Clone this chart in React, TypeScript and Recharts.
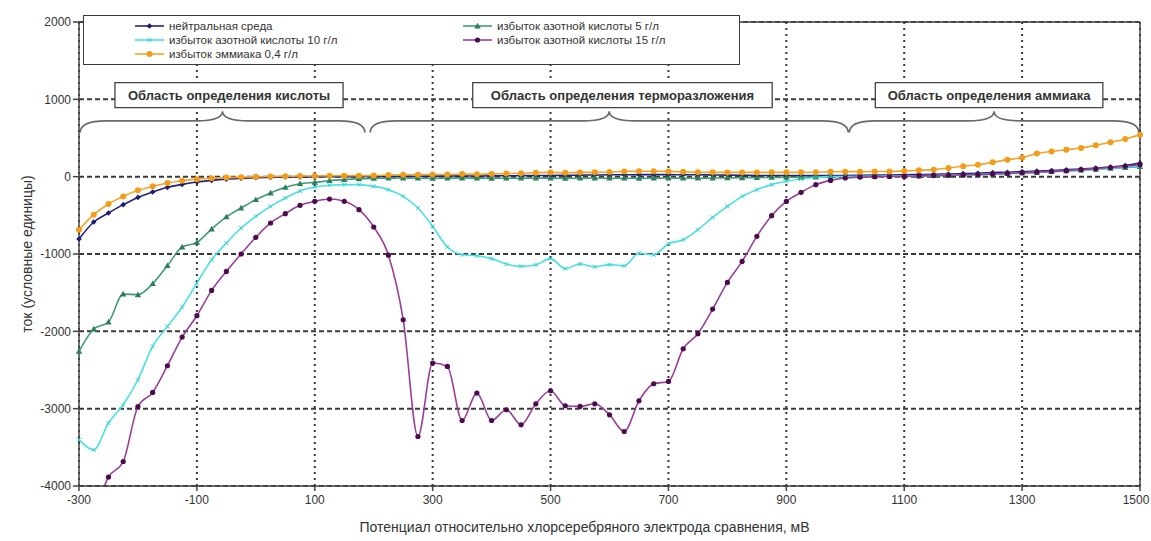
import React from 'react';
import { LineChart, Line, XAxis, YAxis, CartesianGrid, ReferenceLine, ReferenceArea, Label } from 'recharts';

const FONT = '"Liberation Sans", Arial, sans-serif';

// Potential, mV
const potentials = [
  -300, -275, -250, -225, -200, -175, -150, -125, -100, -75, -50, -25,
  0, 25, 50, 75, 100, 125, 150, 175, 200, 225, 250, 275,
  300, 325, 350, 375, 400, 425, 450, 475, 500, 525, 550, 575,
  600, 625, 650, 675, 700, 725, 750, 775, 800, 825, 850, 875,
  900, 925, 950, 975, 1000, 1025, 1050, 1075, 1100, 1125, 1150, 1175,
  1200, 1225, 1250, 1275, 1300, 1325, 1350, 1375, 1400, 1425, 1450, 1475, 1500,
];

const neutral = [
  -806, -586, -470, -362, -268, -198, -138, -100, -69, -48, -32, -22,
  -14, -9, -5, -3, -2, -1, 0, 2, 3, 4, 5, 6,
  7, 8, 8, 9, 10, 12, 13, 15, 16, 18, 20, 22,
  24, 25, 26, 26, 26, 25, 24, 22, 20, 18, 16, 15,
  14, 14, 14, 15, 16, 18, 20, 22, 25, 28, 31, 35,
  40, 45, 52, 58, 65, 72, 80, 90, 100, 112, 125, 145, 175,
];

const nitric5 = [
  -2260, -1970, -1880, -1517, -1527, -1384, -1151, -910, -850, -677, -521, -405,
  -298, -211, -138, -91, -74, -52, -38, -28, -22, -20, -18, -20,
  -22, -20, -18, -20, -22, -20, -20, -18, -20, -22, -20, -18,
  -20, -20, -22, -20, -18, -20, -20, -18, -16, -14, -12, -10,
  -8, -6, -4, -2, 0, 2, 4, 6, 8, 11, 14, 18,
  22, 27, 33, 40, 48, 56, 65, 74, 84, 95, 106, 118, 130,
];

const nitric10 = [
  -3402, -3532, -3186, -2950, -2626, -2195, -1937, -1686, -1375, -1074, -858, -664,
  -513, -384, -276, -185, -133, -110, -103, -103, -125, -168, -255, -405,
  -643, -910, -1009, -1022, -1060, -1130, -1160, -1140, -1060, -1190, -1130, -1165,
  -1138, -1151, -990, -1009, -867, -815, -686, -527, -384, -255, -168, -103,
  -60, -30, -10, 0, 2, 4, 6, 8, 10, 12, 15, 18,
  22, 27, 33, 40, 48, 56, 65, 75, 85, 96, 108, 122, 138,
];

const nitric15 = [
  null, -4380, -3885, -3683, -2972, -2790, -2445, -2074, -1798, -1471, -1225, -1000,
  -785, -599, -479, -371, -319, -289, -319, -427, -651, -1015, -1850, -3360,
  -2410, -2454, -3153, -2799, -3153, -3014, -3208, -2937, -2768, -2962, -2971, -2937,
  -3079, -3295, -2898, -2678, -2648, -2225, -2030, -1712, -1367, -1096, -772, -505,
  -320, -203, -103, -48, -17, -5, 0, 3, 6, 10, 14, 18,
  23, 28, 35, 42, 50, 58, 68, 78, 90, 102, 118, 135, 155,
];

const ammonia = [
  -686, -492, -353, -255, -177, -125, -82, -52, -32, -20, -12, -6,
  -2, 2, 5, 8, 10, 12, 13, 13, 14, 20, 24, 26,
  27, 28, 35, 30, 36, 40, 45, 52, 55, 50, 55, 56,
  60, 68, 70, 70, 68, 62, 58, 56, 55, 55, 55, 56,
  56, 56, 57, 62, 65, 65, 66, 67, 74, 82, 91, 113,
  134, 155, 185, 220, 246, 298, 327, 349, 371, 405, 444, 488, 543,
];

const xTicks = [-300, -100, 100, 300, 500, 700, 900, 1100, 1300, 1500];
const yTicks = [-4000, -3000, -2000, -1000, 0, 1000, 2000];

const regionLabels = [
  { text: 'Область определения кислоты', x1: -239, x2: 148 },
  { text: 'Область определения терморазложения', x1: 368, x2: 876 },
  { text: 'Область определения аммиака', x1: 1051, x2: 1437 },
];
const braces = [
  { x1: -298, x2: 185 },
  { x1: 194, x2: 1005 },
  { x1: 1007, x2: 1498 },
];

const data = potentials.map((x, i) => ({
  x,
  neutral: neutral[i],
  nitric5: nitric5[i],
  nitric10: nitric10[i],
  nitric15: nitric15[i],
  ammonia: ammonia[i],
}));

type Marker = 'diamond' | 'triangle' | 'cross' | 'circle';

const seriesDefs: { key: string; name: string; line: string; mark: string; marker: Marker; size: number }[] = [
  { key: 'neutral', name: 'нейтральная среда', line: '#23237f', mark: '#1c1c70', marker: 'diamond', size: 2.8 },
  { key: 'nitric5', name: 'избыток азотной кислоты 5 г/л', line: '#3f9c76', mark: '#2d7f5c', marker: 'triangle', size: 3.2 },
  { key: 'nitric10', name: 'избыток азотной кислоты 10 г/л', line: '#45e2e2', mark: '#38cfcf', marker: 'cross', size: 2 },
  { key: 'nitric15', name: 'избыток азотной кислоты 15 г/л', line: '#9a3e9a', mark: '#4e0a4e', marker: 'circle', size: 2.6 },
  { key: 'ammonia', name: 'избыток эммиака 0,4 г/л', line: '#f4a425', mark: '#f39c1a', marker: 'circle', size: 3 },
];

function markerShape(kind: Marker, cx: number, cy: number, s: number, color: string, key?: any) {
  if (kind === 'diamond') {
    return <path key={key} d={`M${cx},${cy - s}L${cx + s},${cy}L${cx},${cy + s}L${cx - s},${cy}Z`} fill={color} />;
  }
  if (kind === 'triangle') {
    return <path key={key} d={`M${cx},${cy - s}L${cx + s},${cy + s * 0.75}L${cx - s},${cy + s * 0.75}Z`} fill={color} />;
  }
  if (kind === 'cross') {
    return (
      <path key={key} d={`M${cx - s},${cy - s}L${cx + s},${cy + s}M${cx - s},${cy + s}L${cx + s},${cy - s}`} stroke={color} strokeWidth={1} fill="none" />
    );
  }
  return <circle key={key} cx={cx} cy={cy} r={s} fill={color} />;
}

const makeDot = (def: (typeof seriesDefs)[number]) => (props: any) => {
  const { cx, cy, index, value } = props;
  if (cx == null || cy == null || value == null || Number.isNaN(cy)) return <g key={`d-${def.key}-${index}`} />;
  return markerShape(def.marker, cx, cy, def.size, def.mark, `d-${def.key}-${index}`);
};

const BraceShape = (props: any) => {
  const { x, y, width, height } = props;
  const bottom = y + height;
  const mid = y + height * 0.45;
  const cx = x + width / 2;
  const r = 26;
  const d = `M${x},${bottom} Q${x},${mid} ${x + r},${mid} L${cx - r},${mid} Q${cx},${mid} ${cx},${y} Q${cx},${mid} ${cx + r},${mid} L${x + width - r},${mid} Q${x + width},${mid} ${x + width},${bottom}`;
  return <path d={d} fill="none" stroke="#6a6a6a" strokeWidth={1.6} />;
};

const XTick = (props: any) => {
  const { x, y, payload } = props;
  const tx = Math.min(x, 1136);
  return (
    <text x={tx} y={y} dy="0.71em" textAnchor="middle" fill="#333" fontSize={12} fontFamily={FONT}>
      {payload.value}
    </text>
  );
};

const XLabel = (props: any) => {
  const vb = props.viewBox || {};
  return (
    <text x={vb.x + vb.width / 2 - 25} y={vb.y + 46} textAnchor="middle" fill="#333" fontSize={14} fontFamily={FONT}>
      Потенциал относительно хлорсеребряного электрода сравнения, мВ
    </text>
  );
};

const YLabel = (props: any) => {
  const vb = props.viewBox || {};
  const cx = 27;
  const cy = vb.y + vb.height / 2;
  return (
    <text x={cx} y={cy} transform={`rotate(-90 ${cx} ${cy})`} textAnchor="middle" dominantBaseline="central" fill="#333" fontSize={14} fontFamily={FONT}>
      ток (условные единицы)
    </text>
  );
};

const legendOrder = ['neutral', 'nitric5', 'nitric10', 'nitric15', 'ammonia'];

function LegendOverlay() {
  return (
    <div
      style={{
        position: 'absolute',
        left: 83,
        top: 15,
        width: 657,
        height: 50,
        boxSizing: 'border-box',
        border: '1.5px solid #3a3a3a',
        background: '#fff',
        fontFamily: FONT,
        fontSize: 11.5,
        color: '#333',
      }}
    >
      {legendOrder.map((k, i) => {
        const def = seriesDefs.find((s) => s.key === k)!;
        const col = i % 2;
        const row = Math.floor(i / 2);
        return (
          <div
            key={k}
            style={{
              position: 'absolute',
              left: col === 0 ? 51 : 379,
              top: 3 + row * 14,
              height: 14,
              display: 'flex',
              alignItems: 'center',
              whiteSpace: 'nowrap',
            }}
          >
            <svg width={29} height={10} style={{ marginRight: 5 }}>
              <line x1={0} y1={5} x2={29} y2={5} stroke={def.line} strokeWidth={1.6} />
              {markerShape(def.marker, 14.5, 5, def.size, def.mark)}
            </svg>
            <span>{def.name}</span>
          </div>
        );
      })}
    </div>
  );
}

export default function App() {
  return (
    <div style={{ position: 'absolute', left: 0, top: 0, width: 1151, height: 541, background: '#fff', overflow: 'hidden' }}>
      <LineChart width={1151} height={541} data={data} margin={{ top: 22, right: 11, left: 0, bottom: 0 }}>
        <CartesianGrid vertical={false} stroke="#3a3a3a" strokeWidth={2} strokeDasharray="5 3" />
        <CartesianGrid horizontal={false} stroke="#3a3a3a" strokeWidth={2} strokeDasharray="2 4" />
        <XAxis
          dataKey="x"
          type="number"
          domain={[-300, 1500]}
          ticks={xTicks}
          interval={0}
          height={55}
          tickSize={5}
          tickMargin={4}
          tick={XTick}
          axisLine={{ stroke: '#444', strokeWidth: 1.5 }}
          tickLine={{ stroke: '#444', strokeWidth: 1.5 }}
          label={XLabel}
        />
        <YAxis
          type="number"
          domain={[-4000, 2000]}
          ticks={yTicks}
          interval={0}
          allowDataOverflow
          width={79}
          tickSize={6}
          tickMargin={2}
          tick={{ fill: '#333', fontSize: 12, fontFamily: FONT }}
          axisLine={{ stroke: '#444', strokeWidth: 1.5 }}
          tickLine={{ stroke: '#444', strokeWidth: 1.5 }}
          label={YLabel}
        />
        <ReferenceLine y={2000} stroke="#444" strokeWidth={1.5} />
        <ReferenceLine x={1500} stroke="#444" strokeWidth={1.5} />
        {braces.map((b, i) => (
          <ReferenceArea key={`b${i}`} x1={b.x1} x2={b.x2} y1={570} y2={845} shape={BraceShape} />
        ))}
        {regionLabels.map((r, i) => (
          <ReferenceArea
            key={`r${i}`}
            x1={r.x1}
            x2={r.x2}
            y1={893}
            y2={1216}
            fill="#fff"
            fillOpacity={1}
            stroke="#444"
            strokeWidth={1.3}
            label={
              <Label
                value={r.text}
                position="center"
                fill="#333"
                fontSize={13}
                fontWeight="bold"
                fontFamily={FONT}
              />
            }
          />
        ))}
        {seriesDefs.map((def) => (
          <Line
            key={def.key}
            dataKey={def.key}
            name={def.name}
            type="monotone"
            stroke={def.line}
            strokeWidth={1.6}
            dot={makeDot(def)}
            activeDot={false}
            isAnimationActive={false}
            connectNulls={false}
          />
        ))}
      </LineChart>
      <LegendOverlay />
    </div>
  );
}
